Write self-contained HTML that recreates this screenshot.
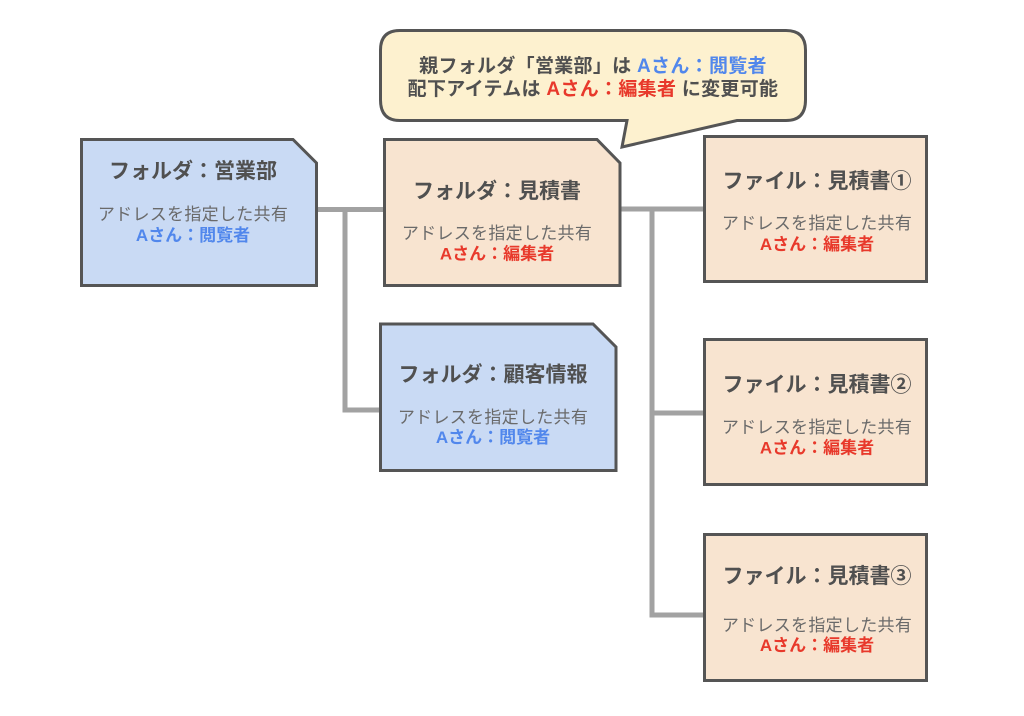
<!DOCTYPE html>
<html>
<head>
<meta charset="utf-8">
<style>
html,body{margin:0;padding:0;background:#fff;}
svg{display:block;}
text{font-family:"Liberation Sans","Noto Sans CJK JP",sans-serif;}
.t{font-size:21px;font-weight:bold;fill:#505050;}
.s{font-size:17px;fill:#6a6a6a;letter-spacing:0.3px;}
.b{font-size:17px;font-weight:bold;fill:#5187ec;}
.r{font-size:17px;font-weight:bold;fill:#e8392b;}
.bt{font-size:19px;font-weight:bold;fill:#505050;letter-spacing:0.3px;}
</style>
</head>
<body>
<svg width="1024" height="716" viewBox="0 0 1024 716" xmlns="http://www.w3.org/2000/svg">
  <rect width="1024" height="716" fill="#fff"/>
  <!-- connectors -->
  <g stroke="#a2a2a2" stroke-width="5" fill="none">
    <path d="M316,209.5 H386"/>
    <path d="M345,209.5 V410 H382"/>
    <path d="M619,209 H706"/>
    <path d="M652,209 V615 H706"/>
    <path d="M652,413 H706"/>
  </g>
  <!-- boxes -->
  <g stroke="#555" stroke-width="3" stroke-linejoin="miter">
    <path d="M81.5,139.5 H293 L316.5,163 V285.5 H81.5 Z" fill="#c9daf4"/>
    <path d="M384.5,139.5 H597 L620,163 V285.5 H384.5 Z" fill="#f8e4d0"/>
    <path d="M380.5,324 H593 L616,347 V470.5 H380.5 Z" fill="#c9daf4"/>
    <rect x="704.5" y="136.5" width="222" height="145" fill="#f8e4d0"/>
    <rect x="704.5" y="339.5" width="222" height="145" fill="#f8e4d0"/>
    <rect x="704.5" y="534.5" width="222" height="146" fill="#f8e4d0"/>
  </g>
  <!-- bubble -->
  <path d="M400,30.5 H786 Q805.5,30.5 805.5,50 V100 Q805.5,120.5 786,120.5 H737 L622,147 L627,120.5 H400 Q380.5,120.5 380.5,100 V50 Q380.5,30.5 400,30.5 Z" fill="#fdf1cf" stroke="#555" stroke-width="3" stroke-linejoin="miter"/>
  <text class="bt" x="593" y="72" text-anchor="middle">親フォルダ「営業部」は <tspan fill="#5187ec">Aさん：閲覧者</tspan></text>
  <text class="bt" x="593" y="95" text-anchor="middle">配下アイテムは <tspan fill="#e8392b">Aさん：編集者</tspan> に変更可能</text>

  <!-- box1 -->
  <text class="t" x="193" y="178" text-anchor="middle">フォルダ：営業部</text>
  <text class="s" x="193" y="220" text-anchor="middle">アドレスを指定した共有</text>
  <text class="b" x="193" y="241" text-anchor="middle">Aさん：閲覧者</text>

  <!-- box 見積書 -->
  <text class="t" x="497" y="198" text-anchor="middle">フォルダ：見積書</text>
  <text class="s" x="497" y="239" text-anchor="middle">アドレスを指定した共有</text>
  <text class="r" x="497" y="259.5" text-anchor="middle">Aさん：編集者</text>

  <!-- box 顧客情報 -->
  <text class="t" x="493" y="381.5" text-anchor="middle">フォルダ：顧客情報</text>
  <text class="s" x="493" y="423" text-anchor="middle">アドレスを指定した共有</text>
  <text class="b" x="493" y="443" text-anchor="middle">Aさん：閲覧者</text>

  <!-- file1 -->
  <text class="t" x="817" y="188" text-anchor="middle">ファイル：見積書①</text>
  <text class="s" x="817" y="229" text-anchor="middle">アドレスを指定した共有</text>
  <text class="r" x="817" y="250" text-anchor="middle">Aさん：編集者</text>

  <!-- file2 -->
  <text class="t" x="817" y="391.5" text-anchor="middle">ファイル：見積書②</text>
  <text class="s" x="817" y="433" text-anchor="middle">アドレスを指定した共有</text>
  <text class="r" x="817" y="453.5" text-anchor="middle">Aさん：編集者</text>

  <!-- file3 -->
  <text class="t" x="817" y="583" text-anchor="middle">ファイル：見積書③</text>
  <text class="s" x="817" y="631" text-anchor="middle">アドレスを指定した共有</text>
  <text class="r" x="817" y="651" text-anchor="middle">Aさん：編集者</text>
</svg>
</body>
</html>
